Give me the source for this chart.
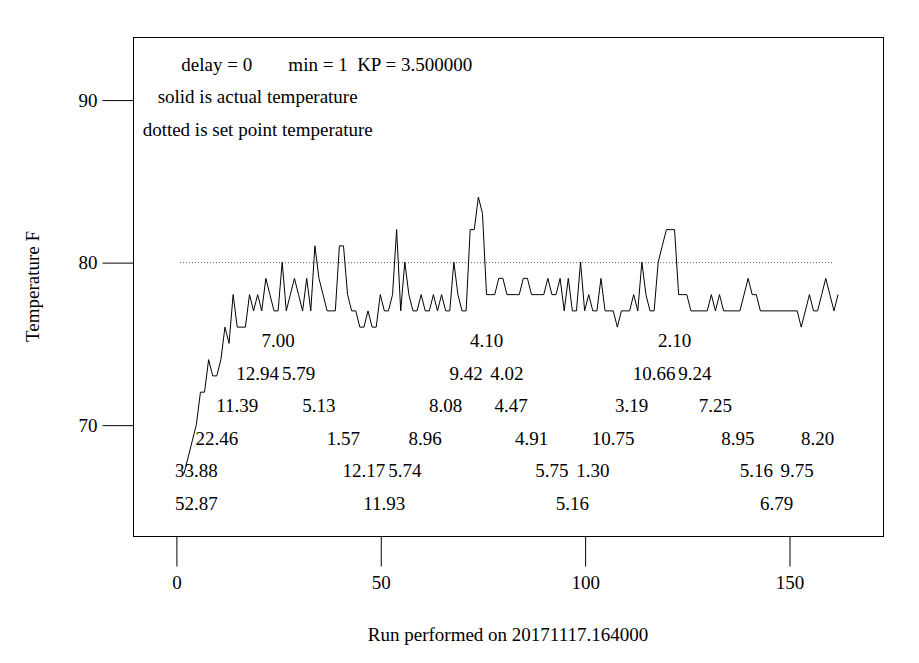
<!DOCTYPE html>
<html>
<head>
<meta charset="utf-8">
<script src="https://cdn.jsdelivr.net/npm/d3@7"></script>
<style>
  body { margin: 0; background: #fff; }
  text { font-family: "Liberation Serif", "Times New Roman", serif; font-size: 19px; fill: #000; }
</style>
</head>
<body>
<div id="chart"></div>
<script>
// temperature readings, first one is run index 2
var tempStart = 2
var temps = [
  67, 68, 69, 70, 72, 72, 74, 73, 73, 74,
  76, 75, 78, 76, 76, 76, 78, 77, 78, 77,
  79, 78, 77, 77, 80, 77, 78, 79, 78, 77,
  79, 77, 81, 79, 78, 77, 77, 77, 81, 81,
  78, 77, 77, 76, 76, 77, 76, 76, 78, 77,
  77, 78, 82, 77, 80, 78, 77, 77, 78, 77,
  77, 78, 77, 78, 77, 77, 80, 78, 77, 77,
  82, 82, 84, 83, 78, 78, 78, 79, 79, 78,
  78, 78, 78, 79, 79, 78, 78, 78, 78, 79,
  78, 78, 79, 77, 79, 77, 77, 80, 77, 78,
  77, 77, 79, 77, 77, 77, 76, 77, 77, 77,
  78, 77, 80, 78, 77, 77, 80, 81, 82, 82,
  82, 78, 78, 78, 77, 77, 77, 77, 77, 78,
  77, 78, 77, 77, 77, 77, 77, 78, 79, 78,
  78, 77, 77, 77, 77, 77, 77, 77, 77, 77,
  77, 76, 77, 78, 77, 77, 78, 79, 78, 77, 78
]

// set point
var setStart = 1
var setEnd = 161
var setPoint = 80

// numbers written inside the plot
var noteTexts = ['52.87', '33.88', '22.46', '11.39', '12.94', '7.00', '5.79', '5.13', '1.57', '12.17',
  '11.93', '5.74', '8.96', '8.08', '9.42', '4.10', '4.02', '4.47', '4.91', '5.75',
  '5.16', '1.30', '10.75', '3.19', '10.66', '2.10', '9.24', '7.25', '8.95', '5.16',
  '6.79', '9.75', '8.20']
var noteX = [5, 5, 10, 15, 20, 25, 30, 35, 41, 46,
  51, 56, 61, 66, 71, 76, 81, 82, 87, 92,
  97, 102, 107, 111.5, 117, 122, 127, 132, 137.5, 142,
  147, 152, 157]
var noteY = [65, 67, 69, 71, 73, 75, 73, 71, 69, 67,
  65, 67, 69, 71, 73, 75, 73, 71, 69, 67,
  65, 67, 69, 71, 73, 75, 73, 71, 69, 67,
  65, 67, 69]

var headTexts = ['delay = 0', 'min = 1  KP = 3.500000', 'solid is actual temperature', 'dotted is set point temperature']
var headX = [10, 50, 20, 20]
var headY = [92, 92, 90, 88]

var xTicks = [0, 50, 100, 150]
var yTicks = [70, 80, 90]

;(function() {
  var W = 919
  var H = 663
  var box = { left: 133, right: 883, top: 37, bottom: 536 }
  var font = '"Liberation Serif", "Times New Roman", serif'

  var svg = d3
    .select('#chart')
    .append('svg')
    .attr('width', W)
    .attr('height', H)

  var x = d3
    .scaleLinear()
    .domain([-10.5, 173.0])
    .range([box.left, box.right])
  var y = d3
    .scaleLinear()
    .domain([63.15, 93.85])
    .range([box.bottom, box.top])

  // plot frame
  svg
    .append('rect')
    .attr('x', box.left + 0.5)
    .attr('y', box.top + 0.5)
    .attr('width', box.right - box.left)
    .attr('height', box.bottom - box.top)
    .attr('fill', 'none')
    .attr('stroke', '#000')

  // axes, R style: long ticks outside the frame
  var xAxis = d3
    .axisBottom(x)
    .tickValues(xTicks)
    .tickSize(30)
    .tickPadding(9)
    .tickSizeOuter(0)
  var gx = svg
    .append('g')
    .attr('transform', 'translate(0.5,' + (box.bottom + 0.5) + ')')
    .call(xAxis)
  gx.select('.domain').remove()
  gx.selectAll('text')
    .style('font-family', font)
    .style('font-size', '19px')
    .attr('fill', '#000')

  var yAxis = d3
    .axisLeft(y)
    .tickValues(yTicks)
    .tickSize(31)
    .tickPadding(5)
    .tickSizeOuter(0)
  var gy = svg
    .append('g')
    .attr('transform', 'translate(' + (box.left + 0.5) + ',0.5)')
    .call(yAxis)
  gy.select('.domain').remove()
  gy.selectAll('text')
    .style('font-family', font)
    .style('font-size', '19px')
    .attr('fill', '#000')

  // set point, dotted
  svg
    .append('line')
    .attr('x1', x(setStart))
    .attr('x2', x(setEnd))
    .attr('y1', y(setPoint) + 0.5)
    .attr('y2', y(setPoint) + 0.5)
    .attr('stroke', '#666')
    .attr('stroke-dasharray', '1,2')

  // actual temperature
  var line = d3
    .line()
    .x((d, i) => x(tempStart + i))
    .y(d => y(d))
  svg
    .append('path')
    .datum(temps)
    .attr('d', line)
    .attr('fill', 'none')
    .attr('stroke', '#000')
    .attr('stroke-width', 1)

  // numbers inside the plot
  svg
    .selectAll('.note')
    .data(noteTexts)
    .enter()
    .append('text')
    .attr('class', 'note')
    .attr('x', (d, i) => x(noteX[i]))
    .attr('y', (d, i) => y(noteY[i]))
    .attr('dy', '0.2em')
    .attr('text-anchor', 'middle')
    .text(d => d)

  svg
    .selectAll('.head')
    .data(headTexts)
    .enter()
    .append('text')
    .attr('class', 'head')
    .attr('xml:space', 'preserve')
    .style('white-space', 'pre')
    .attr('x', (d, i) => x(headX[i]))
    .attr('y', (d, i) => y(headY[i]))
    .attr('dy', '0.2em')
    .attr('text-anchor', 'middle')
    .text(d => d)

  // axis titles
  svg
    .append('text')
    .attr('x', (box.left + box.right) / 2)
    .attr('y', 641)
    .attr('text-anchor', 'middle')
    .text('Run performed on 20171117.164000')

  svg
    .append('text')
    .attr('transform', 'translate(39,' + (box.top + box.bottom) / 2 + ') rotate(-90)')
    .attr('text-anchor', 'middle')
    .text('Temperature F')
})()
</script>
</body>
</html>
